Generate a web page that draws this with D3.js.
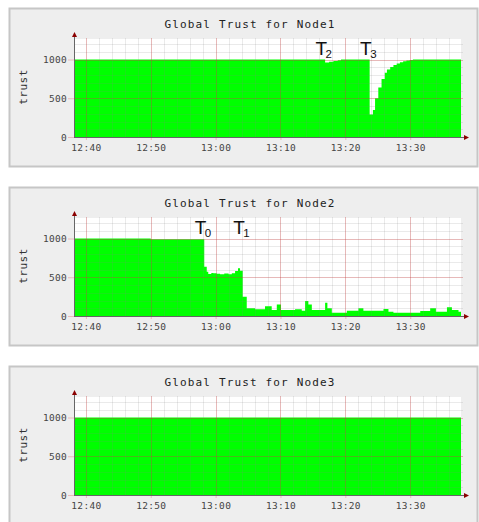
<!DOCTYPE html>
<html>
<head>
<meta charset="utf-8">
<script src="https://cdn.jsdelivr.net/npm/d3@7"></script>
<style>
body { margin: 0; background: #fff; }
svg { display: block; }
</style>
</head>
<body>
<div id="chart"></div>
<script>
// Global trust of three nodes.
// Values hold from each time until the next one (step graph).
var node1Times = ["12:38:10", "13:16:53", "13:17:30", "13:18:10", "13:18:50", "13:19:20",
	"13:23:45", "13:24:15", "13:24:35", "13:25:05", "13:25:35", "13:26:05", "13:26:25",
	"13:26:55", "13:27:25", "13:27:55", "13:28:25", "13:28:55", "13:29:25", "13:29:55",
	"13:30:25", "13:37:50"];
var node1Trust = [1000, 962, 970, 980, 990, 1000,
	290, 350, 500, 640, 750, 830, 870,
	905, 930, 950, 965, 978, 988, 995,
	1000, 1000];

var node2Times = ["12:38:10", "12:50:00", "12:58:15", "12:58:38", "12:58:52", "12:59:20",
	"12:59:39", "13:00:10", "13:00:41", "13:01:20", "13:02:00", "13:02:30", "13:03:00",
	"13:03:27", "13:03:46", "13:04:11", "13:04:48", "13:06:05", "13:07:37", "13:08:39",
	"13:09:26", "13:10:05", "13:12:15", "13:13:17", "13:13:48", "13:14:18", "13:14:50",
	"13:16:53", "13:17:14", "13:17:55", "13:20:14", "13:22:01", "13:22:47", "13:25:53",
	"13:26:39", "13:27:25", "13:31:33", "13:33:05", "13:33:58", "13:35:40", "13:36:26",
	"13:37:27", "13:37:50"];
var node2Trust = [1000, 990, 636, 572, 542, 555,
	551, 545, 538, 548, 540, 552, 580,
	615, 585, 249, 99, 86, 125, 77,
	150, 77, 86, 68, 194, 150, 77,
	172, 99, 43, 68, 99, 68, 90,
	55, 43, 65, 99, 55, 112, 77,
	55, 55];

var node3Times = ["12:38:10", "13:37:50"];
var node3Trust = [1000, 1000];

// event markers T0..T3
var node1MarkLabels = ["2", "3"];
var node1MarkTimes = ["13:16:53", "13:23:45"];
var node2MarkLabels = ["0", "1"];
var node2MarkTimes = ["12:58:15", "13:04:11"];

var titles = ["Global Trust for Node1", "Global Trust for Node2", "Global Trust for Node3"];
var yTicks = [0, 500, 1000];
var yMax = 1265;

var parseTime = d3.timeParse("%H:%M:%S");

var series = [
	{times: node1Times, trust: node1Trust, markLabels: node1MarkLabels, markTimes: node1MarkTimes},
	{times: node2Times, trust: node2Trust, markLabels: node2MarkLabels, markTimes: node2MarkTimes},
	{times: node3Times, trust: node3Trust, markLabels: [], markTimes: []}
];

var panelStep = 179;
var plotLeft = 74, plotRight = 461, plotTop = 39, plotBottom = 137;

var minorColor = "rgba(128,128,128,0.17)";
var majorColor = "rgba(225,40,40,0.25)";
var axisColor = "#666";
var arrowColor = "#8b0000";
var mono = "'DejaVu Sans Mono', monospace";

var svg = d3.select("#chart").append("svg")
	.attr("width", 479)
	.attr("height", 522);

var scale_time = d3.scaleTime()
	.domain([parseTime("12:38:10"), parseTime("13:37:50")])
	.range([plotLeft, plotRight]);
var scale_trust = d3.scaleLinear()
	.domain([0, yMax])
	.range([plotBottom, plotTop]);

var area = d3.area()
	.curve(d3.curveStepAfter)
	.x(function(d) { return scale_time(d.t); })
	.y0(scale_trust(0))
	.y1(function(d) { return scale_trust(d.v); });

series.forEach(function(s, i) {
	var g = svg.append("g")
		.attr("transform", "translate(0," + (i * panelStep) + ")");

	// panel frame
	g.append("rect")
		.attr("x", 9.5)
		.attr("y", 8.5)
		.attr("width", 468)
		.attr("height", 158)
		.attr("fill", "#eeeeee")
		.attr("stroke", "#c6c6c6")
		.attr("stroke-width", 2);

	g.append("text")
		.attr("x", 250)
		.attr("y", 28)
		.style("text-anchor", "middle")
		.style("font-family", mono)
		.style("font-size", "11px")
		.style("letter-spacing", "1.15px")
		.style("fill", "#222")
		.text(titles[i]);

	// plot background
	g.append("rect")
		.attr("x", plotLeft)
		.attr("y", plotTop)
		.attr("width", plotRight - plotLeft)
		.attr("height", plotBottom - plotTop)
		.attr("fill", "#fff");

	var data = s.times.map(function(t, j) { return {t: parseTime(t), v: s.trust[j]}; });

	g.append("path")
		.attr("fill", "#00ff00")
		.attr("d", area(data));

	// minor grid
	var minorX = scale_time.ticks(d3.timeMinute.every(2));
	g.selectAll(".vminor")
		.data(minorX)
		.enter()
		.append("line")
		.attr("x1", function(d) { return Math.round(scale_time(d)) + 0.5; })
		.attr("x2", function(d) { return Math.round(scale_time(d)) + 0.5; })
		.attr("y1", plotTop - 1)
		.attr("y2", plotBottom)
		.style("stroke", minorColor);

	var minorY = d3.range(100, yMax, 100);
	g.selectAll(".hminor")
		.data(minorY)
		.enter()
		.append("line")
		.attr("x1", plotLeft)
		.attr("x2", plotRight + 2)
		.attr("y1", function(d) { return Math.round(scale_trust(d)) + 0.5; })
		.attr("y2", function(d) { return Math.round(scale_trust(d)) + 0.5; })
		.style("stroke", minorColor);

	// major grid
	var majorX = scale_time.ticks(d3.timeMinute.every(10));
	g.selectAll(".vmajor")
		.data(majorX)
		.enter()
		.append("line")
		.attr("x1", function(d) { return Math.round(scale_time(d)) + 0.5; })
		.attr("x2", function(d) { return Math.round(scale_time(d)) + 0.5; })
		.attr("y1", plotTop - 1)
		.attr("y2", plotBottom)
		.style("stroke", majorColor);

	g.selectAll(".hmajor")
		.data(yTicks.slice(1))
		.enter()
		.append("line")
		.attr("x1", plotLeft)
		.attr("x2", plotRight + 2)
		.attr("y1", function(d) { return Math.round(scale_trust(d)) + 0.5; })
		.attr("y2", function(d) { return Math.round(scale_trust(d)) + 0.5; })
		.style("stroke", majorColor);

	// axes with labels
	var xAxis = g.append("g")
		.attr("transform", "translate(0," + plotBottom + ")")
		.call(d3.axisBottom(scale_time)
			.tickValues(majorX)
			.tickFormat(d3.timeFormat("%H:%M"))
			.tickSize(3)
			.tickPadding(4));
	xAxis.select(".domain").remove();
	xAxis.selectAll("line").attr("stroke", majorColor);
	xAxis.selectAll("text")
		.style("font-family", mono)
		.style("font-size", "9.5px")
		.style("letter-spacing", "0.3px")
		.style("fill", "#444");

	var yAxis = g.append("g")
		.attr("transform", "translate(" + plotLeft + ",0)")
		.call(d3.axisLeft(scale_trust)
			.tickValues(yTicks)
			.tickFormat(d3.format("d"))
			.tickSize(6)
			.tickPadding(1));
	yAxis.select(".domain").remove();
	yAxis.selectAll("line").attr("stroke", majorColor);
	yAxis.selectAll("text")
		.style("font-family", mono)
		.style("font-size", "9.5px")
		.style("letter-spacing", "0.3px")
		.style("fill", "#444");

	// axis lines and arrows
	g.append("line")
		.attr("x1", plotLeft)
		.attr("x2", plotRight + 4)
		.attr("y1", plotBottom + 0.5)
		.attr("y2", plotBottom + 0.5)
		.style("stroke", axisColor);
	g.append("path")
		.attr("d", "M" + (plotRight + 3) + "," + (plotBottom - 2) + "L" + (plotRight + 8) + "," + (plotBottom + 0.5) + "L" + (plotRight + 3) + "," + (plotBottom + 3) + "Z")
		.attr("fill", arrowColor);
	g.append("line")
		.attr("x1", plotLeft + 0.5)
		.attr("x2", plotLeft + 0.5)
		.attr("y1", plotBottom + 1)
		.attr("y2", plotTop - 3)
		.style("stroke", axisColor);
	g.append("path")
		.attr("d", "M" + (plotLeft - 2) + "," + (plotTop - 2) + "L" + (plotLeft + 0.5) + "," + (plotTop - 7) + "L" + (plotLeft + 3) + "," + (plotTop - 2) + "Z")
		.attr("fill", arrowColor);

	g.append("text")
		.attr("transform", "rotate(-90)")
		.attr("x", -87)
		.attr("y", 26.5)
		.style("text-anchor", "middle")
		.style("font-family", mono)
		.style("font-size", "11px")
		.style("letter-spacing", "0.5px")
		.style("fill", "#333")
		.text("trust");

	// event markers
	s.markTimes.forEach(function(t, j) {
		var mx = scale_time(parseTime(t));
		g.append("text")
			.attr("x", mx + 2)
			.attr("y", 55)
			.style("text-anchor", "end")
			.style("font-family", "'Liberation Sans', Arial, sans-serif")
			.style("font-size", "19px")
			.style("fill", "#111")
			.text("T");
		g.append("text")
			.attr("x", mx + 0.5)
			.attr("y", 57.5)
			.style("font-family", "'Liberation Sans', Arial, sans-serif")
			.style("font-size", "11.5px")
			.style("fill", "#111")
			.text(s.markLabels[j]);
	});
});
</script>
</body>
</html>
